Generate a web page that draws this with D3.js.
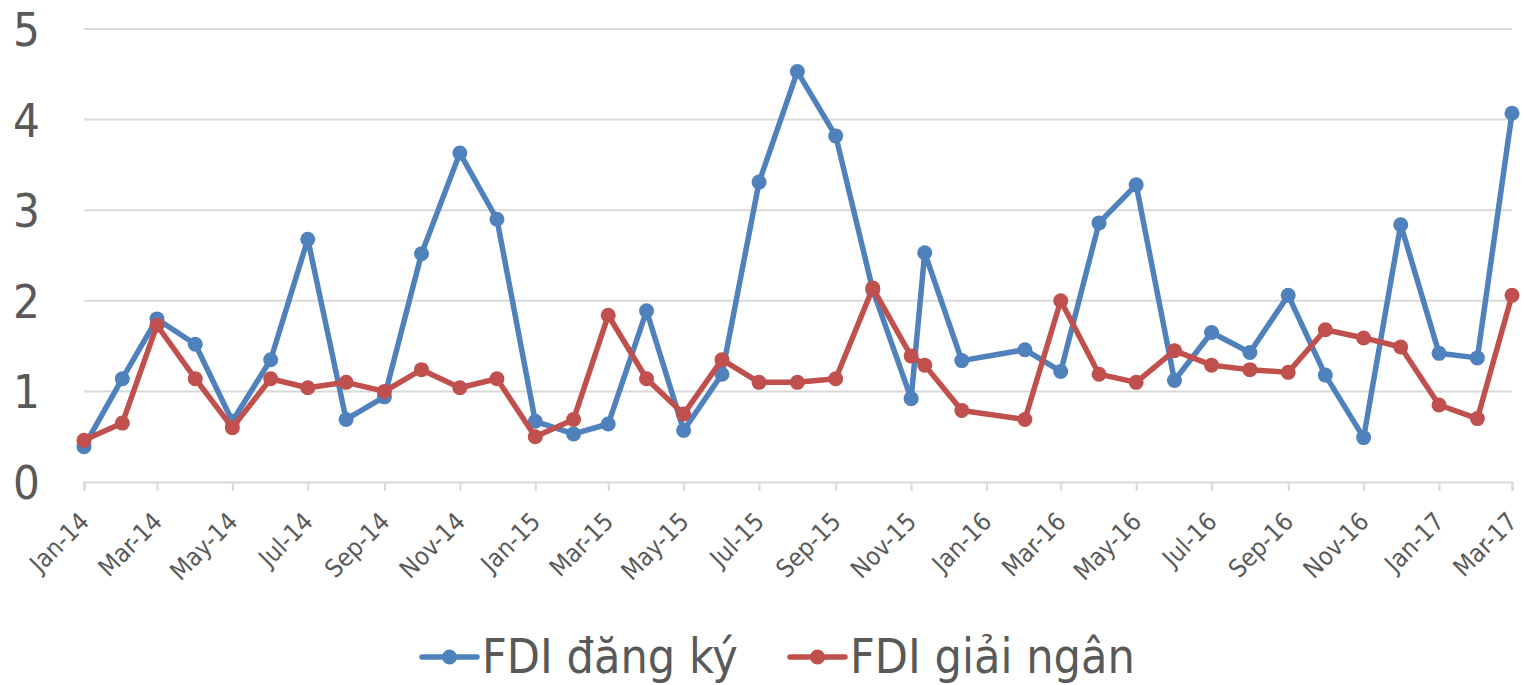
<!DOCTYPE html>
<html>
<head>
<meta charset="utf-8">
<script src="https://cdn.jsdelivr.net/npm/d3@7"></script>
<style>
  body { margin: 0; background: #fff; }
  text { font-family: "DejaVu Sans Condensed", "DejaVu Sans", sans-serif; font-stretch: condensed; fill: #595959; }
</style>
</head>
<body>
<svg id="chart" width="1524" height="685"></svg>
<script>
// data (billion USD per month)
var dates = ["2014-01-01","2014-02-01","2014-03-01","2014-04-01","2014-05-01","2014-06-01",
  "2014-07-01","2014-08-01","2014-09-01","2014-10-01","2014-11-01","2014-12-01",
  "2015-01-01","2015-02-01","2015-03-01","2015-04-01","2015-05-01","2015-06-01",
  "2015-07-01","2015-08-01","2015-09-01","2015-10-01","2015-11-01","2015-11-12",
  "2015-12-12","2016-02-01","2016-03-01","2016-04-01","2016-05-01","2016-06-01",
  "2016-07-01","2016-08-01","2016-09-01","2016-10-01","2016-11-01","2016-12-01",
  "2017-01-01","2017-02-01","2017-03-01"];
var dang_ky = [0.39,1.14,1.80,1.52,0.67,1.35,2.68,0.69,0.94,2.52,3.63,2.90,
  0.67,0.53,0.64,1.89,0.57,1.19,3.31,4.53,3.82,2.12,0.92,2.53,
  1.34,1.46,1.22,2.86,3.28,1.12,1.65,1.43,2.06,1.18,0.49,2.84,
  1.42,1.37,4.07];
var giai_ngan = [0.46,0.65,1.73,1.14,0.60,1.14,1.04,1.10,1.00,1.24,1.04,1.14,
  0.50,0.69,1.84,1.14,0.75,1.35,1.10,1.10,1.14,2.14,1.39,1.29,
  0.79,0.69,2.00,1.19,1.10,1.45,1.29,1.24,1.21,1.68,1.59,1.49,
  0.85,0.70,2.06];
var series_names = ["FDI đăng ký", "FDI giải ngân"];
var series_colors = ["#4F81BD", "#C0504D"];
var y_ticks = [0, 1, 2, 3, 4, 5];

var parse = d3.timeParse("%Y-%m-%d");
var svg = d3.select("#chart");

var left = 84, right = 1512, top_y = 29, bottom_y = 482;
var line_w = 5.5, dot_r = 7.5;

var x = d3.scaleTime()
  .domain([parse("2014-01-01"), parse("2017-03-01")])
  .range([left, right]);
var y = d3.scaleLinear().domain([0, 5]).range([bottom_y, top_y]);

// horizontal grid lines
svg.append("g").selectAll("line")
  .data(y_ticks.slice(1))
  .join("line")
  .attr("x1", left).attr("x2", right)
  .attr("y1", d => y(d)).attr("y2", d => y(d))
  .attr("stroke", "#D9D9D9").attr("stroke-width", 2);

// y labels
svg.append("g").selectAll("text")
  .data(y_ticks)
  .join("text")
  .attr("x", 40)
  .attr("y", d => y(d))
  .attr("dy", "0.36em")
  .attr("text-anchor", "end")
  .style("font-size", "47px")
  .text(d => d);

// x axis, tick every two months
var xAxis = d3.axisBottom(x)
  .ticks(d3.timeMonth.every(2))
  .tickSize(9)
  .tickFormat(d3.timeFormat("%b-%y"));

var gx = svg.append("g")
  .attr("transform", "translate(0," + bottom_y + ")")
  .call(xAxis);
gx.select(".domain").attr("stroke", "#D9D9D9").attr("stroke-width", 2);
gx.selectAll(".tick line").attr("stroke", "#D9D9D9").attr("stroke-width", 2);
gx.selectAll(".tick text")
  .attr("y", 0).attr("x", 0)
  .attr("dy", "0.35em")
  .attr("text-anchor", "end")
  .attr("transform", "translate(0,35) rotate(-45)")
  .style("font-size", "25px")
  .style("fill", "#595959");

// lines + markers, red drawn last so it sits on top
var all_values = [dang_ky, giai_ngan];
all_values.forEach(function(vals, i) {
  var pts = vals.map((v, j) => ({ date: parse(dates[j]), value: v }));
  var line = d3.line().x(d => x(d.date)).y(d => y(d.value));
  var g = svg.append("g");
  g.append("path")
    .datum(pts)
    .attr("d", line)
    .attr("fill", "none")
    .attr("stroke", series_colors[i])
    .attr("stroke-width", line_w)
    .attr("stroke-linejoin", "round");
  g.selectAll("circle")
    .data(pts)
    .join("circle")
    .attr("cx", d => x(d.date))
    .attr("cy", d => y(d.value))
    .attr("r", dot_r)
    .attr("fill", series_colors[i]);
});

// legend
var legend_x = [422, 790];
var legend_y = 657;
series_names.forEach(function(name, i) {
  var lg = svg.append("g").attr("transform", "translate(" + legend_x[i] + "," + legend_y + ")");
  lg.append("line")
    .attr("x1", 0).attr("x2", 55)
    .attr("stroke", series_colors[i])
    .attr("stroke-width", line_w)
    .attr("stroke-linecap", "round");
  lg.append("circle").attr("cx", 27.5).attr("r", dot_r).attr("fill", series_colors[i]);
  lg.append("text")
    .attr("x", 60)
    .attr("y", 16)
    .style("font-size", "48px")
    .text(name);
});
</script>
</body>
</html>
